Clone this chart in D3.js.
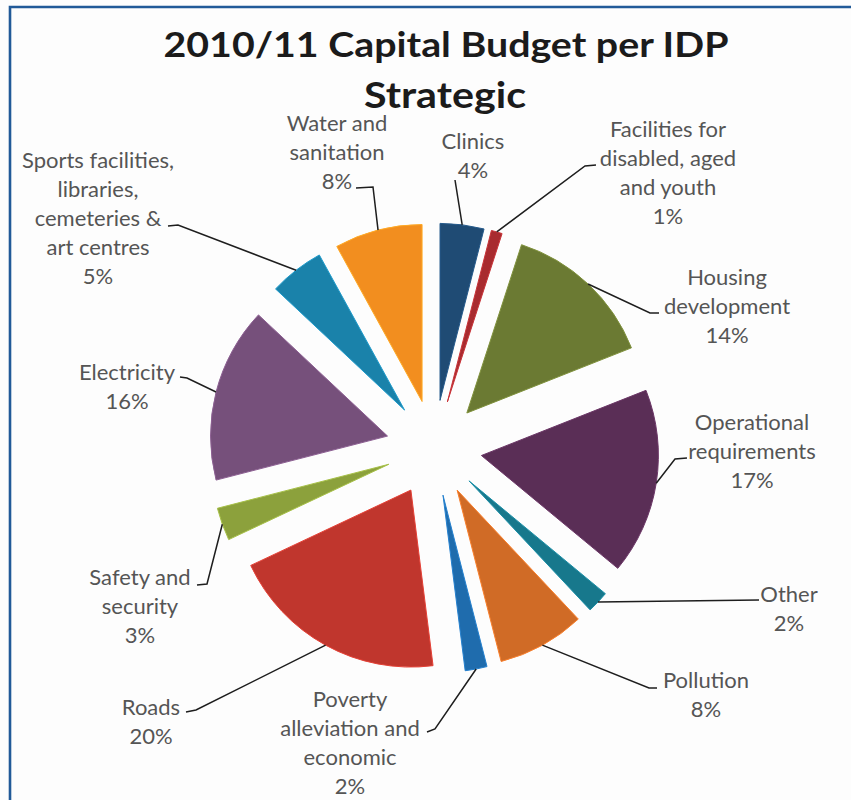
<!DOCTYPE html>
<html>
<head>
<meta charset="utf-8">
<script src="https://cdn.jsdelivr.net/npm/d3@7"></script>
<style>
  html, body { margin: 0; padding: 0; background: #fdfdfd; }
  svg { display: block; }
</style>
</head>
<body>
<div id="chart"></div>
<script>
// Capital budget shares per IDP strategic area, clockwise from 12 o'clock
const categories = [
  "Clinics",
  "Facilities for disabled, aged and youth",
  "Housing development",
  "Operational requirements",
  "Other",
  "Pollution",
  "Poverty alleviation and economic",
  "Roads",
  "Safety and security",
  "Electricity",
  "Sports facilities, libraries, cemeteries & art centres",
  "Water and sanitation"
];
const shares = [4, 1, 14, 17, 2, 8, 2, 20, 3, 16, 5, 8];

// Wrapped label text for each category (percentage line is added from shares)
const labelLines = [
  ["Clinics"],
  ["Facilities for", "disabled, aged", "and youth"],
  ["Housing", "development"],
  ["Operational", "requirements"],
  ["Other"],
  ["Pollution"],
  ["Poverty", "alleviation and", "economic"],
  ["Roads"],
  ["Safety and", "security"],
  ["Electricity"],
  ["Sports facilities,", "libraries,", "cemeteries &", "art centres"],
  ["Water and", "sanitation"]
];

const palette = [
  "#1f4b74", "#a82b2f", "#6b7a33", "#5a2e56", "#17788c", "#d06b26",
  "#1f6cad", "#c0362d", "#8ca13c", "#76507b", "#1a82aa", "#f28e1f"
];

// Label placement: text centre x, first baseline, leader anchor at label, elbow
const labelLayout = [
  { x: 473, y: 149, ax: 455, ay: 180, ex: 455, ey: 180 },
  { x: 668, y: 137, ax: 596, ay: 165, ex: 585, ey: 166 },
  { x: 727, y: 285, ax: 659, ay: 313, ex: 650, ey: 313 },
  { x: 752, y: 430, ax: 687, ay: 458, ex: 675, ey: 459 },
  { x: 789, y: 602, ax: 759, ay: 600, ex: 759, ey: 600 },
  { x: 706, y: 688, ax: 657, ay: 688, ex: 649, ey: 688 },
  { x: 350, y: 707, ax: 427, ay: 732, ex: 435, ey: 729 },
  { x: 151, y: 715, ax: 186, ay: 712, ex: 196, ey: 710 },
  { x: 140, y: 585, ax: 197, ay: 585, ex: 207, ey: 584 },
  { x: 127, y: 380, ax: 180, ay: 377, ex: 187, ey: 378 },
  { x: 98,  y: 168, ax: 168, ay: 226, ex: 178, ey: 225 },
  { x: 337, y: 131, ax: 356, ay: 188, ex: 373, ey: 187 }
];

const W = 851, H = 800;
const cx = 434, cy = 448;
const radius = 177;
const explode = 48;
const lineGap = 29.1;

const svg = d3.select("#chart").append("svg")
  .attr("width", W).attr("height", H);

svg.append("rect").attr("width", W).attr("height", H).attr("fill", "#fdfdfd");

// Frame: top and left rules of the panel
svg.append("path")
  .attr("d", `M10,${H} L10,7 L${W},7`)
  .attr("fill", "none")
  .attr("stroke", "#215a98")
  .attr("stroke-width", 2.6);

// Title
const title = svg.append("g")
  .attr("font-family", "Lato, 'Open Sans', sans-serif")
  .attr("font-weight", "bold")
  .attr("fill", "#1b1b1b")
  .attr("text-anchor", "middle");
title.append("text").attr("x", 446).attr("y", 57)
  .attr("font-size", 35)
  .attr("textLength", 565).attr("lengthAdjust", "spacingAndGlyphs")
  .text("2010/11 Capital Budget per IDP");
title.append("text").attr("x", 445).attr("y", 108)
  .attr("font-size", 36)
  .attr("textLength", 162).attr("lengthAdjust", "spacingAndGlyphs")
  .text("Strategic");

const pie = d3.pie().sort(null).value(d => d)(shares);
const arc = d3.arc().innerRadius(0).outerRadius(radius);
const edge = d3.arc().innerRadius(radius).outerRadius(radius);

const mid = d => (d.startAngle + d.endAngle) / 2;
const shift = d => [explode * Math.sin(mid(d)), -explode * Math.cos(mid(d))];

const pieG = svg.append("g").attr("transform", `translate(${cx},${cy})`);

pieG.selectAll("path.slice")
  .data(pie)
  .join("path")
  .attr("class", "slice")
  .attr("transform", d => `translate(${shift(d)[0]},${shift(d)[1]})`)
  .attr("d", arc)
  .attr("fill", (d, i) => palette[i])
  .attr("stroke", (d, i) => d3.color(palette[i]).brighter(0.5))
  .attr("stroke-width", 1);

// Leader lines: from the outer arc at each slice's mid-angle to its label
svg.append("g")
  .selectAll("polyline")
  .data(pie)
  .join("polyline")
  .attr("fill", "none")
  .attr("stroke", "#1e1e1e")
  .attr("stroke-width", 1.5)
  .attr("points", (d, i) => {
    const s = shift(d);
    const p = edge.centroid(d);
    const L = labelLayout[i];
    return [[L.ax, L.ay], [L.ex, L.ey], [cx + s[0] + p[0], cy + s[1] + p[1]]]
      .map(q => q.join(",")).join(" ");
  });

// Data labels
const labels = svg.append("g")
  .attr("font-family", "Lato, 'Open Sans', sans-serif")
  .attr("font-size", 22)
  .attr("fill", "#555555")
  .attr("text-anchor", "middle");

labels.selectAll("text")
  .data(pie)
  .join("text")
  .attr("x", (d, i) => labelLayout[i].x)
  .attr("y", (d, i) => labelLayout[i].y)
  .each(function(d, i) {
    const lines = labelLines[i].concat([`${d.data}%`]);
    d3.select(this).selectAll("tspan")
      .data(lines)
      .join("tspan")
      .attr("x", labelLayout[i].x)
      .attr("y", (t, k) => labelLayout[i].y + k * lineGap)
      .text(t => t);
  });
</script>
</body>
</html>
